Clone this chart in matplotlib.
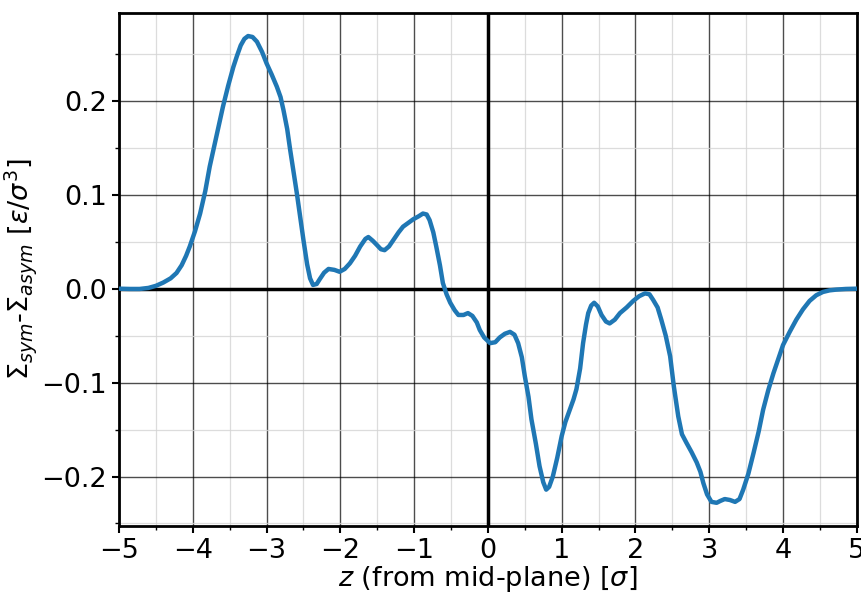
import numpy as np
import matplotlib.pyplot as plt
from matplotlib.ticker import MultipleLocator

# values
z_vals = [-5.00, -4.85, -4.72, -4.60, -4.50, -4.40, -4.30, -4.22, -4.15, -4.09, -4.04, -3.97, -3.90,
          -3.83, -3.77, -3.68, -3.59, -3.52, -3.45, -3.40, -3.35, -3.30, -3.25, -3.19, -3.13, -3.06, -3.00,
          -2.93, -2.86, -2.81, -2.77, -2.72, -2.68, -2.59, -2.50, -2.45, -2.41, -2.37, -2.32, -2.28, -2.22,
          -2.16, -2.08, -2.01, -1.94, -1.87, -1.80, -1.73, -1.66, -1.62, -1.56, -1.51,
          -1.45, -1.40, -1.34, -1.28, -1.21, -1.15, -1.08, -1.01, -0.94, -0.88, -0.83,
          -0.79, -0.74, -0.70, -0.65, -0.61, -0.56, -0.51, -0.45, -0.40, -0.33, -0.27,
          -0.21, -0.15, -0.11, -0.05, 0.03, 0.10, 0.16, 0.23, 0.30, 0.36, 0.41, 0.46,
          0.50, 0.55, 0.59, 0.65, 0.70, 0.75, 0.79, 0.83, 0.88, 0.94, 1.00, 1.05, 1.11,
          1.16, 1.20, 1.25, 1.29, 1.33, 1.36, 1.40, 1.44, 1.49, 1.54, 1.60, 1.65, 1.72,
          1.79, 1.88, 1.97, 2.05, 2.13, 2.19, 2.24, 2.30, 2.35, 2.41, 2.47, 2.52, 2.58,
          2.63, 2.69, 2.76, 2.83, 2.88, 2.92, 2.97, 3.03, 3.10, 3.15, 3.21, 3.28, 3.35,
          3.41, 3.46, 3.53, 3.60, 3.67, 3.73, 3.80, 3.87, 3.94, 4.00, 4.09, 4.18, 4.27,
          4.36, 4.45, 4.54, 4.63, 4.72, 4.85, 5.00]
sigma_diff = [0.000, -0.0003, -0.0003, 0.0008, 0.003, 0.0065, 0.011, 0.0167, 0.025, 0.035, 0.045, 0.061, 0.080,
              0.104, 0.130, 0.162, 0.194, 0.216, 0.236, 0.248, 0.259, 0.266, 0.269, 0.268, 0.263, 0.252, 0.240,
              0.228, 0.215, 0.204, 0.190, 0.170, 0.148, 0.102, 0.052, 0.026, 0.011, 0.004, 0.005, 0.010, 0.017,
              0.021, 0.020, 0.018, 0.021, 0.027, 0.035, 0.045, 0.053, 0.055, 0.051, 0.047,
              0.042, 0.041, 0.045, 0.052, 0.060, 0.066, 0.070, 0.074, 0.077, 0.080, 0.079,
              0.073, 0.060, 0.045, 0.025, 0.006, -0.006, -0.015, -0.023, -0.028, -0.028, -0.026,
              -0.029, -0.036, -0.044, -0.052, -0.058, -0.057, -0.052, -0.048, -0.046, -0.049, -0.058, -0.073,
              -0.093, -0.115, -0.139, -0.165, -0.189, -0.206, -0.214, -0.211, -0.200, -0.180, -0.157, -0.142, -0.129,
              -0.118, -0.107, -0.085, -0.058, -0.038, -0.026, -0.018, -0.015, -0.019, -0.028, -0.035, -0.037, -0.033,
              -0.026, -0.020, -0.013, -0.008, -0.005, -0.006, -0.012, -0.020, -0.033, -0.050, -0.072, -0.104, -0.136,
              -0.155, -0.164, -0.174, -0.185, -0.195, -0.207, -0.219, -0.227, -0.228, -0.226, -0.224, -0.225, -0.227,
              -0.224, -0.214, -0.197, -0.175, -0.152, -0.129, -0.108, -0.090, -0.074, -0.060, -0.046, -0.033, -0.022,
              -0.013, -0.007, -0.0035, -0.0018, -0.001, -0.0003, 0.000]


def make_plot():
    fig = plt.figure(figsize=(8.62, 5.92), dpi=100)
    ax = fig.add_axes([0.138, 0.111, 0.856, 0.867])

    ax.plot(z_vals, sigma_diff, color='#1f77b4', linewidth=3.2, zorder=5,
            solid_joinstyle='round')

    ax.axhline(0, color='black', linewidth=2.5, zorder=3)
    ax.axvline(0, color='black', linewidth=2.5, zorder=3)

    ax.set_xlim(-5, 5)
    ax.set_ylim(-0.253, 0.2935)
    ax.xaxis.set_major_locator(MultipleLocator(1))
    ax.xaxis.set_minor_locator(MultipleLocator(0.5))
    ax.yaxis.set_major_locator(MultipleLocator(0.1))
    ax.yaxis.set_minor_locator(MultipleLocator(0.05))

    ax.grid(which='major', color='black', alpha=0.7, linewidth=1.0)
    ax.grid(which='minor', color='#d4d4d4', alpha=0.8, linewidth=0.9)

    for sp in ax.spines.values():
        sp.set_linewidth(2)
    ax.tick_params(which='major', labelsize=19.5, width=1.5, length=5)
    ax.tick_params(which='minor', width=1, length=3)

    ax.set_xlabel(r'$z$ (from mid-plane) [$\sigma$]', fontsize=19.5, labelpad=0)
    ax.set_ylabel(r'$\Sigma_{sym}$-$\Sigma_{asym}$ [$\varepsilon/\sigma^3$]', fontsize=19.5, labelpad=2)

    fig.savefig('out.png', dpi=100)


if __name__ == '__main__':
    make_plot()
